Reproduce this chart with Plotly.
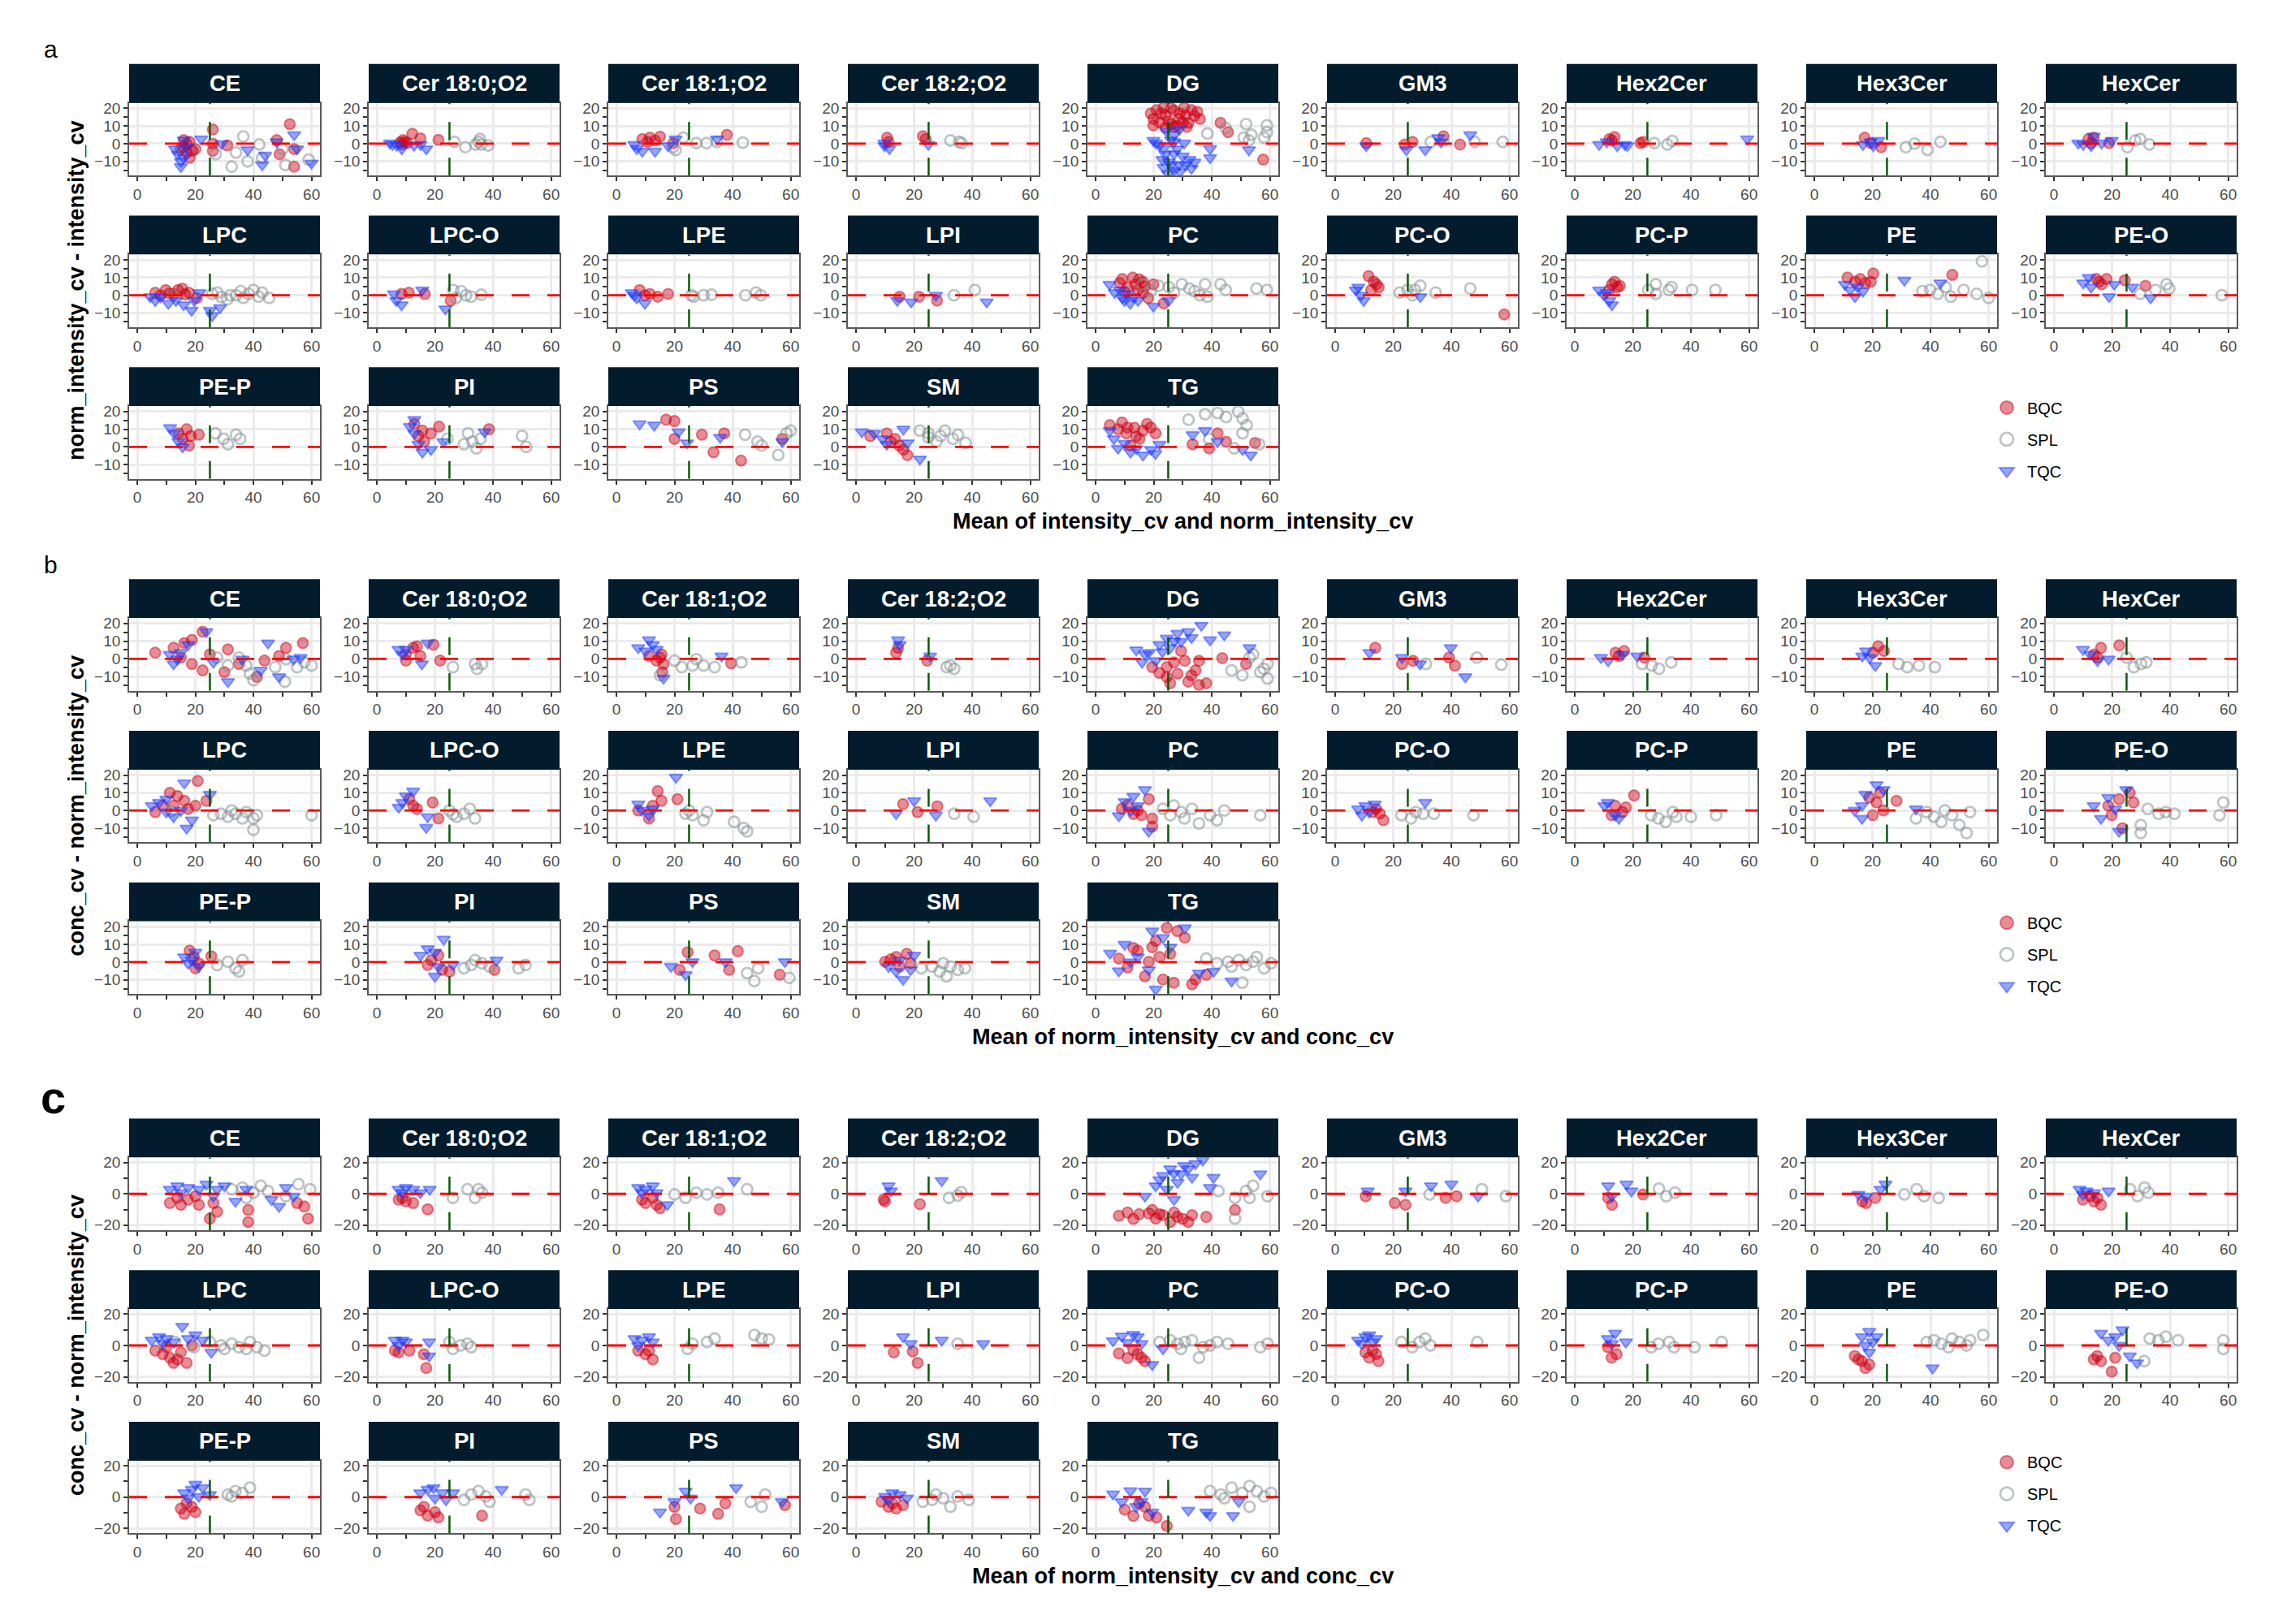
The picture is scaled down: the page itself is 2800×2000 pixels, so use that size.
import plotly.graph_objects as go

W, H = 2800, 2000

CLASSES = ["CE", "Cer 18:0;O2", "Cer 18:1;O2", "Cer 18:2;O2", "DG", "GM3", "Hex2Cer",
           "Hex3Cer", "HexCer", "LPC", "LPC-O", "LPE", "LPI", "PC", "PC-O", "PC-P",
           "PE", "PE-O", "PE-P", "PI", "PS", "SM", "TG"]
GROUPS = ["BQC", "SPL", "TQC"]
PANEL_TAGS = ["a", "b", "c"]
Y_TITLES = ["norm_intensity_cv - intensity_cv", "conc_cv - norm_intensity_cv",
            "conc_cv - norm_intensity_cv"]
X_TITLES = ["Mean of intensity_cv and norm_intensity_cv",
            "Mean of norm_intensity_cv and conc_cv",
            "Mean of norm_intensity_cv and conc_cv"]
X_TICKS = [0, 20, 40, 60]
Y_TICKS_AB = [-10, 0, 10, 20]
Y_TICKS_C = [-20, 0, 20]
CUTOFF = 25

# ---- panel a : norm_intensity_cv - intensity_cv  (x, y) pairs
A_BQC = {
    "CE": [(15, -3), (16, -2), (16, 2), (17, 0), (17, -5), (18, 1), (18, -8), (19, -4), (20, -3), (26, 8),
           (26, 0), (26, -4), (31, -1), (48, 2), (49, -6), (52.5, 11), (54, -3), (54, -13)],
    "Cer 18:0;O2": [(8, 0.6), (8.6, -0.5), (9, 2), (9.6, 1), (10.5, 0.3), (12.2, 5.6), (15, 3), (21.2, 2.1)],
    "Cer 18:1;O2": [(8.9, 2.6), (10.7, 1), (11.5, 3.4), (13.3, 1.8), (15, 4), (19.5, 0.3), (38, 5)],
    "Cer 18:2;O2": [(10.7, 3.4), (11.2, 1), (23, 4.2), (24, 2.6)],
    "DG": [(19, 17), (19.9, 10.3), (19.9, 14), (21, 19), (22, 12), (22.6, 17), (23.4, 20.3), (24, 16), (24, 9),
           (25.2, 12.6), (26, 20), (26, 11), (27, 18.8), (27, 9.5), (28, 10), (28.8, 14), (29, 17), (30, 12),
           (30.5, 20.3), (31, 16), (31.4, 9.5), (32, 11.8), (33, 19), (34, 15.7), (35, 18), (35.9, 14), (43, 11.8),
           (45.6, 6.5), (57.7, -9)],
    "GM3": [(10.7, 0.3), (24, -0.5), (26.6, 1), (37.3, 4.2), (43, -0.5)],
    "Hex2Cer": [(11.9, 2.6), (12.8, 1.8), (13.7, 3.7), (22.6, 0.3), (23.5, 1)],
    "Hex3Cer": [(17.3, 3.4), (19.4, 0.3), (23, -2)],
    "HexCer": [(11.9, 2.6), (12.8, 0.3), (13.7, 3.4), (19, 0.3)],
    "LPC": [(6.2, 1.5), (8, 0), (9.8, 3), (11, 1), (12.5, 0.8), (14, 3), (15.5, 3.8), (16.5, 0.5), (17.8, 1.5),
            (20.5, -1.5)],
    "LPC-O": [(8.5, 0.8), (11, 1.5), (16.5, 0.8), (25.4, -3)],
    "LPE": [(8, 3), (9.8, 0), (11.5, 0.8), (14.2, -0.8), (17.8, 0.8)],
    "LPI": [(15, -0.8), (21.7, -0.8), (27.9, -3)],
    "PC": [(8.3, 7), (9.2, 9.2), (10, 2), (11, 4.6), (12.8, 10), (13.7, 6.2), (14.6, 3), (15, 9), (16.3, 7.7),
           (16.3, 1.5), (17, 5), (18.1, -1.5), (19.9, 6.2), (23.4, -4.6)],
    "PC-O": [(11.5, 10.8), (12.4, 3), (13.3, 7.7), (14.2, 6.2), (15, 4.6), (58.2, -10.8)],
    "PC-P": [(11.9, 3), (12.8, 6.2), (13.7, 7.7), (14.6, 4.6), (15.5, 5.4)],
    "PE": [(11.4, 10), (14, 7.7), (15.8, 9.2), (17.6, 6.9), (19.4, 7.7), (20.3, 12.3), (47.5, 11.5)],
    "PE-O": [(14.6, 9.2), (15.5, 7.7), (16.4, 6.2), (18.1, 9.2), (24.4, 8.5), (31.5, 5.4)],
    "PE-P": [(14.2, 7.7), (15.6, 4.6), (17, 10), (17.8, 0.8), (18.4, 6.2), (21.2, 6.9)],
    "PI": [(12.9, 13), (14.3, 6.2), (15.7, 9.2), (16.3, 3), (18.6, 7.7), (21.4, 11.5), (38.6, 10)],
    "PS": [(17.1, 15.4), (20, 14.6), (20, 4.6), (29.4, 6.9), (33.4, -3), (37.1, 7.7), (42.9, -7.7), (57.1, 4.6)],
    "SM": [(4.9, 6.2), (10.6, 7.7), (12, 3), (13.4, 4.6), (14.9, 0.8), (16.3, -1.5), (17.7, -4.6)],
    "TG": [(4.9, 12.3), (7.7, 10), (9.1, 13.8), (10.6, 7.7), (11, 11), (12, 0.8), (13.4, 10.8), (14, 6), (15.1, 4.6),
           (16.3, 9.2), (17.7, 13), (19, 11), (20.6, 7.7), (33.4, 1.5), (39.1, -0.8), (42, 7.7), (44.9, 3), (54.9, 2.3)],
}
A_SPL = {
    "CE": [(27, -6), (32.5, -13), (34, -5), (36.5, 4), (38, -10), (42, -0.5), (43, -8), (50, -3), (51, -12), (59, -9)],
    "Cer 18:0;O2": [(26.7, 1), (30.5, -2), (34, -0.5), (35, 1), (35.5, 2.6), (36, -0.5), (38.3, -1)],
    "Cer 18:1;O2": [(19.5, -2), (20.4, -3.5), (23, 3.4), (27.5, 0.3), (31, 0.3), (34.6, 1), (43.5, 0.6)],
    "Cer 18:2;O2": [(32.5, 1.8), (35.5, 1), (36.4, 0.3)],
    "DG": [(38.5, 5.7), (44.8, 8.8), (51, 3.4), (51.8, 11), (52.8, 1.8), (53.6, 5), (58, 3.4), (59, 10.3), (59, 6.5)],
    "GM3": [(32.9, 1), (37.3, 1.8), (48, 1), (57.7, 1)],
    "Hex2Cer": [(27.4, 0.3), (31.9, -0.5), (33.6, 1.5)],
    "Hex3Cer": [(31.5, -2), (34.5, 0), (39, -3.5), (43.4, 1)],
    "HexCer": [(25.3, -2), (28, 1.8), (29.7, 2.6), (32.9, -0.5)],
    "LPC": [(12.5, 0), (25.8, 0.8), (27.6, 1.5), (29, -1), (31, -2.3), (32, 0), (34, 0), (35.6, 2.3), (36.5, -1.5),
            (38.3, 0.8), (40, 3), (41.8, -0.8), (43, 1.5), (45.4, -1.5)],
    "LPC-O": [(26.3, 3), (27.2, -1.5), (29, 2.3), (30.7, 0), (32.5, -0.8), (36, 0.3)],
    "LPE": [(25.8, 0), (26.6, -0.8), (30, 0), (32.8, 0.3), (44.4, 0), (48, 1.5), (49.7, 0)],
    "LPI": [(33.7, 0), (40.9, 3)],
    "PC": [(16.3, 6.2), (19, 2.3), (21.7, 5.4), (25.2, 4.6), (27, 1.5), (29.7, 6.2), (32.3, 3.8), (34, 2.3),
           (35.9, 0), (37.7, 6.2), (38.5, -0.8), (43, 6.2), (44.8, 3), (55.4, 3.8), (59, 3)],
    "PC-O": [(22.2, 1.5), (24.9, 3), (26.6, 0), (27.5, 3), (29.3, 5.4), (34.6, 1.5), (46.5, 3.8)],
    "PC-P": [(25.3, 3), (27.9, 6.2), (27.9, 0.8), (32.4, 3), (33.3, 4.6), (40.4, 3), (48.4, 3)],
    "PE": [(37.2, 2.3), (39.9, 3), (42.5, 0.8), (45.2, 4.6), (47, -0.8), (51.4, 3), (55.9, 0.8), (57.7, 19.2), (60, -1.5)],
    "PE-O": [(29.7, 0.8), (35, 3), (38.8, 6.2), (39.7, 3.8), (57.8, 0)],
    "PE-P": [(26.9, 7.7), (29.7, 4.6), (31.2, 1.5), (34, 6.9), (35.4, 4.6)],
    "PI": [(24.3, 4.6), (30, 1.5), (31.4, 7.7), (32.9, 3), (34.3, -0.8), (35.7, 4.6), (50, 6.2), (51.4, 0)],
    "PS": [(44.3, 6.9), (48.6, 3), (50, 0.8), (55.7, -4.6), (58.6, 7.7), (60, 9.2)],
    "SM": [(22, 9.2), (24.9, 7.7), (24.9, 5.4), (27.7, 3), (29.1, 6.2), (30.6, 9.2), (33.4, 4.6), (35.1, 6.9), (37.7, 2.3)],
    "TG": [(32, 15.4), (37.7, 18.5), (39.1, 4.6), (42, 19.2), (44.9, 16.9), (47.7, -0.8), (49.1, 20), (50.6, 16.2),
           (50.6, 7.7), (52, 12.3), (56.3, 1.5)],
}
A_TQC = {
    "CE": [(13, -3), (14, -6), (15, -10), (15, -13), (16, 2), (16, -8), (17, -2), (22, 2.6), (29, 0), (38, -3.5),
           (43, -12), (44, -6.6), (48, 1), (54, 5), (55, -3), (60, -11)],
    "Cer 18:0;O2": [(4.5, 0.3), (5.4, -0.5), (6.8, -1), (8.6, -3), (12.8, -1), (15, -0.5), (17, -3)],
    "Cer 18:1;O2": [(6.2, -0.5), (7, -2.8), (8.9, -4.3), (13.3, -4.3), (17.8, -1.2), (20.4, 2.6), (34.6, 2.6)],
    "Cer 18:2;O2": [(9.8, 0.3), (9.8, -1.2), (11.5, -2.8), (24.9, -0.5)],
    "DG": [(19.9, 1.8), (20.8, 0.3), (22, -1), (23, -9), (23.4, -2.8), (23.4, -13.5), (24, -6), (24.3, 7.2),
           (25, -17), (25.2, -10.5), (26, 2), (26, -12), (27, 5), (27, 1), (27, -5.8), (27, -15), (28, -3),
           (28.8, 8), (28.8, -12), (29, -16), (30, -7), (30.5, 0.3), (31, -12), (32.3, -9), (33, -14), (34, -10.5),
           (39.4, -2.8), (39.4, -8), (52.8, -3.5)],
    "GM3": [(10.7, -1.2), (24.5, -3.5), (31, -3.5), (35.5, 3.4), (36.4, 1), (46.5, 5)],
    "Hex2Cer": [(8.4, -0.5), (11, 1), (14.6, -1.2), (17.2, -0.5), (18.1, -1.2), (59.4, 2.6)],
    "Hex3Cer": [(16.7, -0.5), (19.4, 1), (20.3, -1.2), (22, 1.8)],
    "HexCer": [(8.4, 0.3), (10.1, -0.5), (12.8, -1.2), (13.7, 4.2), (16.4, 0.3), (19.9, 1.8)],
    "LPC": [(4.4, -0.8), (6.2, -3), (8, -1), (10.7, -4.6), (13.3, -3), (16, -5.4), (18.7, -8.5), (19.6, -3),
            (21.4, 1.5), (25, -8.5), (25.8, -11.5), (28.5, -7)],
    "LPC-O": [(5.9, 0.8), (6.7, -3), (8.5, -5.4), (15.6, 3), (23.6, -7.7)],
    "LPE": [(5.3, 1.5), (6.2, 0), (7, -1.5), (9.8, -4.6)],
    "LPI": [(14.2, -3), (19, -3.8), (27.5, 0), (45, -3.8)],
    "PC": [(4.8, 6.2), (6.6, 1.5), (8.3, 3), (9.2, -1.5), (10, -3), (11, 0.8), (11.9, -4.6), (13, -1), (14.6, -3),
           (19.9, -6.2), (25.2, -3)],
    "PC-O": [(7.1, 3), (8, 4.6), (8.9, 0), (9.8, -3), (29.3, -0.8)],
    "PC-P": [(8.4, 3), (10.1, 0), (11, 1.5), (11.9, -3), (12.8, -5.4)],
    "PE": [(10.5, 6.2), (12.3, 3), (14, -0.8), (14.9, 4.6), (16.7, 2.3), (31, 8.5), (43.4, 6.9)],
    "PE-O": [(10.1, 6.9), (12, 10), (12.8, 4.6), (19, -0.8), (20.8, 6.2), (27, 4.6), (33.3, -1.5)],
    "PE-P": [(11.3, 10.8), (12.7, 7.7), (14.2, 3), (15.6, 0)],
    "PI": [(11.4, 11.5), (12.9, 15.4), (12.9, 7.7), (14.3, 1.5), (15.7, -3), (18.6, -1.5), (22.9, 3), (37.1, 8.5)],
    "PS": [(8, 13), (13, 12.3), (21.4, 8.5), (24.3, 2.3), (35.7, 5.4), (57.1, 3)],
    "SM": [(2, 8.5), (6.3, 7.7), (9.1, 4.6), (10.6, 1.5), (16.3, 10), (17.7, 2.3), (22, -6.9)],
    "TG": [(4.9, 9.2), (6.3, 4.6), (7.7, -0.8), (10, 2), (12, -3), (14, -1), (16.3, -4.6), (19.1, -1.5),
           (20.6, -3.8), (22, 1.5), (33.4, 6.9), (37.7, 9.2), (42, 3), (50.6, -1.5), (53.4, -4.6)],
}

# ---- panel b : conc_cv - norm_intensity_cv
B_BQC = {
    "CE": [(6.2, 3.5), (12.5, 6.2), (15, 0.7), (16.2, 8.9), (18.8, 10.7), (18.8, -2.9), (22.5, 15.3), (22.5, -6.5),
           (25, 2.5), (30, -7.5), (31.2, 5.3), (35, -2.9), (41.2, -10.2), (43.8, -1), (48.8, 1.6), (51.2, 6.2), (57, 8.9)],
    "Cer 18:0;O2": [(10, 2.5), (10, -1), (12.5, 6.2), (13.8, 7.1), (15, 1.6), (19.5, 8), (21.8, -1)],
    "Cer 18:1;O2": [(11.2, 1.6), (13.8, -1), (15, 0.7), (15.5, 2.5), (15.8, -7.5), (16.2, -2.9), (39.5, -2.5)],
    "Cer 18:2;O2": [(13.8, 3.5), (14.5, 6.2), (24.5, -1)],
    "DG": [(19.5, -4.7), (22, -8), (24.5, -4.7), (24.5, -10.2), (25.7, -13.8), (27, -2), (28.2, -8.4), (29.4, 4.4),
           (30.7, -1.1), (31.9, -12.9), (33, -9.3), (34.4, -6.5), (35.6, -14.7), (35.6, -1.1), (38.1, -13.8),
           (43.6, 0.4), (51.8, -2.9)],
    "GM3": [(13.8, 6.2), (23, -2.9), (26.8, -1.1), (39.2, 0.7), (41.2, -3.8)],
    "Hex2Cer": [(14, 3.5), (15.2, 1.6), (17, 4.4), (24, 0.7)],
    "Hex3Cer": [(20.2, 3.5), (22, 7.1), (24, 4.4)],
    "HexCer": [(13.8, 2.5), (15, 0.7), (16.2, 6.2), (22.5, 7.6)],
    "LPC": [(6.2, -0.9), (8.8, 2.7), (11.2, 10), (12.5, 2.7), (13.8, 8.2), (16.2, 5.5), (17.5, 0.9), (20, 2.7),
            (20.8, 16.7), (23.8, 5.5)],
    "LPC-O": [(11.2, 6.4), (12.5, 2.7), (13.8, 0.9), (19.2, 4.5), (21.2, -4.5)],
    "LPE": [(7.5, 0), (11.2, -4.5), (12.5, 2.7), (14.2, 10.9), (15.5, 5.5), (21, 6.4)],
    "LPI": [(16.2, 3.6), (21.2, -0.9), (28, 2.4)],
    "PC": [(9, 1), (11, 3), (13, -2), (14.5, 0), (15.8, -2.7), (18.3, 6.4), (19.5, -4.5), (19.5, -9.1)],
    "PC-O": [(12.9, -0.9), (14.1, 0.9), (15.4, -1.8), (16.6, -5.5)],
    "PC-P": [(12.7, -2.7), (13.9, 2.7), (16.4, -0.9), (17.6, 1.8), (20.4, 8.5)],
    "PE": [(18.9, 7.3), (20.1, -2.7), (21.4, 4.5), (22.6, 10), (23.8, 0), (28.3, 5.5)],
    "PE-O": [(18.7, 2.7), (19.9, -2.7), (22.4, 6.4), (23.6, -10), (26.1, 10), (27.4, 4.5)],
    "PE-P": [(18, 6.5), (19.5, 2.9), (20, -3.5), (21.2, -0.7), (25.5, 3.3)],
    "PI": [(17.5, -1.6), (18.8, 1.1), (21.2, 3.8), (22.5, -4.4), (25, -5.3), (40.5, -4.4)],
    "PS": [(21.8, -4.4), (24.5, 5.6), (33.8, 3.8), (38.8, -4.4), (41.8, 6.2), (56.2, -7.1)],
    "SM": [(10, 0.2), (12, 1.5), (13.8, 2.9), (15, -2.5), (17.5, 4.7), (18.8, -0.7)],
    "TG": [(8, 2), (11, -3), (13, 8), (14.5, 6.5), (17, -8), (18.3, 0.2), (19.5, 8.4), (20.7, 12), (22, 2.9),
           (23.2, -9.8), (24.5, 19.3), (25.7, 4.7), (26.9, -11.6), (28.2, 17.5), (30.7, 13.8), (33.2, -12.5),
           (34.4, -9.8), (38.1, -7.1)],
}
B_SPL = {
    "CE": [(27.5, 0.7), (31.2, -3.8), (35, 0.7), (37.5, -3.8), (38.8, -8.4), (40, -12), (47.5, -4.7), (50.8, -12.9),
           (51.2, -0.2), (55, -4.7), (57.5, -2), (60, -3.8)],
    "Cer 18:0;O2": [(26.2, -4.7), (33.8, -2.9), (34.5, -5.6), (36.2, -2.9)],
    "Cer 18:1;O2": [(15, -9.3), (20, -1), (22.5, -4.7), (26.2, -3.8), (27.5, -0.2), (30, -3.8), (33.8, -4.7), (43, -2)],
    "Cer 18:2;O2": [(31.2, -4.7), (32.5, -3.8), (33.8, -5.6)],
    "DG": [(46.8, -6.5), (50.5, -9.3), (53, 0.7), (54.2, 2.5), (56.7, -7.5), (57.9, -5.6), (59.2, -11.1), (59.2, -2.9)],
    "GM3": [(31.2, -2.9), (48.8, 0.7), (57.2, -3.3)],
    "Hex2Cer": [(23.2, -2.9), (26.5, -3.8), (29, -5.6), (33.2, -2)],
    "Hex3Cer": [(29, -2.9), (32, -4.7), (36, -3.8), (41.5, -4.7)],
    "HexCer": [(25, 0.7), (27.5, -4.7), (30, -2.9), (31.8, -2)],
    "LPC": [(11.8, -0.5), (26.2, -2.7), (28.8, -1.8), (31.2, -3.6), (32.5, 0), (33.8, -1.8), (36.2, -4.5),
            (37.5, -0.9), (40, -4.5), (40, -10.9), (41.2, -2.7), (60, -2.7)],
    "LPC-O": [(25, 0), (26.2, -2.2), (27.5, -3.6), (30, -1.8), (32, 0.9), (33.8, -4.5)],
    "LPE": [(23.8, -1.8), (25, 0), (26.2, -2.7), (30, -5.5), (31.2, -0.9), (40.5, -6.4), (43.8, -10), (45, -11.8)],
    "LPI": [(33.8, -1.8), (40.5, -3.6)],
    "PC": [(23.2, 0.9), (25.7, -2.7), (26.9, 2.7), (29.4, -0.9), (30.6, -4.5), (33.2, 0.9), (35.6, -7.3),
           (39.4, -2.7), (41.8, -5.5), (44.3, 0), (56.7, -2.7)],
    "PC-O": [(22.8, -2.7), (26.1, -4.5), (27.8, -0.9), (30.3, -1.8), (34, -1.8), (47.6, -2.7)],
    "PC-P": [(26.3, -2.7), (28.8, -4.5), (31.3, -6.4), (33.8, -0.9), (35, -3.6), (40, -3.6), (48.7, -2.7)],
    "PE": [(35, -4.5), (38.7, -0.9), (41.2, -3.6), (43.7, -6.4), (44.9, 0), (47.4, -2.7), (49.9, -8.2),
           (52.4, -12.7), (53.6, -0.9)],
    "PE-O": [(29.9, -8.2), (29.9, -12.7), (32.3, 0.9), (36, -1.8), (38.5, -0.9), (41.5, -1.8), (57, -2.7), (58.3, 4.5)],
    "PE-P": [(27.5, -1.6), (31.2, 0.2), (33.8, -3.5), (35, -5.3), (36.2, 1.1)],
    "PI": [(30, -3.5), (32.5, -1.6), (33.8, 1.1), (36.2, -0.7), (38.8, -2.5), (48.8, -3.5), (51.2, -1.6)],
    "PS": [(45, -6.2), (47.5, -10.7), (48.8, -3.5), (59.5, -8.9)],
    "SM": [(22.5, -3.5), (26.2, -2.5), (28.8, -5.3), (30, -0.7), (31.2, -8), (32.5, -2.5), (35, -4.4), (37.5, -3.5)],
    "TG": [(38.1, 2), (41.8, -0.7), (45.6, 0.2), (46.8, -2.5), (49.3, 1.1), (50.5, -11.6), (51.8, -1.6),
           (54.2, 0.2), (55.5, 2.9), (58, -3.5), (60.4, -0.7)],
}
B_TQC = {
    "CE": [(11.2, 2.5), (12.5, -2.9), (13.8, -0.2), (15, 3.5), (17.5, 8), (23.8, 15.3), (26.2, -2), (31.2, -12.9),
           (36.2, -0.2), (42.5, -6.5), (45, 8.9), (48.8, -10.2), (53.8, -0.2), (56.2, 0.7)],
    "Cer 18:0;O2": [(7.5, 5.3), (8.8, 2.5), (10, 5.3), (15.5, -2.9), (17.5, 8.9)],
    "Cer 18:1;O2": [(7.5, 6.2), (10, 4.4), (11.2, 10.7), (12.5, 8), (13.8, 5.3), (16.2, -11), (36.2, 1.6)],
    "Cer 18:2;O2": [(14.5, 10.7), (15, 8), (25.5, 1.6)],
    "DG": [(14, 5), (16, -2), (17, 2.5), (18.3, 3.5), (20.7, -1.1), (22, 8), (23, 4), (24.5, 11.6), (25.7, 6.2),
           (27, 10), (28.2, 14.4), (29.4, 9.8), (31.9, 15.3), (33, 12), (36.4, 18.9), (39.4, 10.7), (44.3, 13.5), (53, 6.2)],
    "GM3": [(11.8, 3.5), (23, 0.7), (29.2, -2.9), (39.8, 6.2), (44.8, -10.2)],
    "Hex2Cer": [(9, 0.7), (11.5, -1.1), (16.5, 2.5), (21.5, 1.6)],
    "Hex3Cer": [(16.5, 1.6), (17.8, 4.4), (19, 0.7), (21, -3.8)],
    "HexCer": [(10, 5.3), (12.5, 2.5), (15, -1.1), (18.8, -0.2)],
    "LPC": [(5, 2.7), (7.5, 4.5), (10, -0.9), (10, 6.4), (12.5, -3.6), (15, 0), (16.2, 15.5), (17, -10),
            (18.8, -5.5), (25, 9.1)],
    "LPC-O": [(7.5, 1.8), (8.8, 4.5), (10, 8.2), (12.5, 10.9), (17, -9.6), (17.5, -3.6)],
    "LPE": [(7.5, 3.6), (8.8, 0), (11.2, -2.7), (12.5, 0.9), (20.5, 18.7)],
    "LPI": [(13.8, -1.8), (20, 5.5), (27.5, -2.7), (46.2, 5.5)],
    "PC": [(8, -3), (10, 5), (12, 0), (13, 8), (14.5, 2.7), (17, 11.8), (18.3, -11.8)],
    "PC-O": [(7.9, 0.9), (9.2, -2.7), (10.4, 2.7), (11.7, -0.9), (13.6, 3.6), (31, 4.5)],
    "PC-P": [(10.2, 2.7), (11.4, 4.5), (13.9, -2.7), (15.2, -4.5)],
    "PE": [(13.9, 0), (16.4, -4.5), (16.4, 2.7), (17.6, 9.1), (21.4, 14.5), (23.8, 11.8), (35, 0.9)],
    "PE-O": [(13.7, 2.7), (16.2, -4.5), (18.7, 7.3), (21.1, 0.9), (22.4, -11.8), (24.9, 11.8)],
    "PE-P": [(16.2, 2.9), (17.5, -0.7), (18.8, 1.1), (20, 5.6), (21.2, -2.5)],
    "PI": [(15, 3.8), (17.5, 7.5), (20, 5.6), (20, -8), (21.2, -2.5), (23, 12.9), (26.2, -1.6), (41.2, 1.1)],
    "PS": [(18.8, -2.5), (23.8, -7.1), (26.2, 0.2), (37.5, 0.2), (58, 0.2)],
    "SM": [(11.2, -2.5), (13.8, -5.3), (15, 1.1), (16.2, -9.8), (18.8, -4.4), (20, 3.8)],
    "TG": [(5, 5), (8, -5), (10, 10), (12, 0), (14.5, 2.9), (18.3, -4.4), (19.5, 17.5), (20.7, -15.3),
           (23.2, 13.8), (25.7, 8.4), (30.7, 19.3), (35.6, -6.2), (40.6, -5.3), (46.8, -10.7)],
}

# ---- panel c : conc_cv - norm_intensity_cv
C_BQC = {
    "CE": [(11.2, -5.9), (13.8, -2.6), (15, -7), (17.5, -3.7), (20, -1.5), (21.2, -7), (25, -15.8), (26.2, -5.9),
           (27.5, -11.4), (38.2, -10.3), (38.2, -18), (55, -5.9), (57.5, -8.1), (58.8, -15.8)],
    "Cer 18:0;O2": [(7.5, -3.7), (8.8, -2.6), (10, -4.8), (12.5, -5.9), (17.5, -9.9)],
    "Cer 18:1;O2": [(8.8, -3.7), (10, -5.9), (12.5, -2.6), (13.8, -7), (15, -9.2), (35.5, -9.9)],
    "Cer 18:2;O2": [(9.5, -3.7), (10, -4.8), (22, -6.6)],
    "DG": [(8, -14), (11, -12), (13, -16), (15, -13), (18.3, -12.5), (19.5, -10.3), (20.7, -15.8), (22, -13),
           (23.2, -13.6), (25.7, -18), (27, -12), (28.2, -14.7), (30, -16), (31.9, -18), (33.2, -13.6),
           (38.1, -14.7), (48, -10.3)],
    "GM3": [(10.5, -1.5), (20.5, -5.9), (24.2, -7), (38, -2.6), (41.8, -1.5)],
    "Hex2Cer": [(11.5, -2.6), (12.8, -7), (23.5, -0.4)],
    "Hex3Cer": [(16.5, -4.8), (17.8, -5.9), (21, -2.6)],
    "HexCer": [(10, -3.7), (12.5, -1.5), (13.8, -4.8), (15, -2.6), (16.2, -7)],
    "LPC": [(6.2, -3.3), (8.8, -5.6), (10, -1.1), (11.2, -7.8), (12.5, -11.1), (13.8, -8.9), (15, -4.4),
            (17, -11.1), (18.8, 0)],
    "LPC-O": [(6.2, -3.3), (7.5, -4.4), (11.2, -3.3), (16.2, -5.6), (17, -14.4)],
    "LPE": [(7.5, -3.3), (10, -5.6), (11.2, -3.3), (12.5, -8.9)],
    "LPI": [(13, -4.4), (19.5, -3.8), (21.2, -11.1)],
    "PC": [(8, -5), (11, -8), (13, -3), (14.5, -5.6), (15.8, -7.8), (17, -10)],
    "PC-O": [(10.4, -4.4), (11.7, -7.8), (12.9, -3.3), (14.1, -5.6), (14.9, -10)],
    "PC-P": [(11.4, -1.1), (12.7, -7.8), (14.4, -5.6)],
    "PE": [(13.9, -6.7), (15.2, -8.9), (16.4, -10), (17.6, -14.4), (18.9, -12.2)],
    "PE-O": [(13.7, -8.9), (14.9, -6.7), (16.2, -10), (19.9, -16.7), (21.1, -7.8)],
    "PE-P": [(15, -7.3), (16.2, -10.7), (17, -4), (18.8, -6.2), (20, -9.6)],
    "PI": [(15, -8.4), (16.2, -6.2), (17.5, -11.8), (20, -9.6), (21.2, -12.9), (36.2, -11.8)],
    "PS": [(20, -6.2), (20.5, -14), (28.8, -7.3), (35, -10.7), (37.5, -4), (58, -5.1)],
    "SM": [(8.8, -2.9), (11.2, -6.2), (12.5, -4), (13.8, -7.3), (16.2, -5.1)],
    "TG": [(10, -8), (13, -12), (15, -4), (17, -6.2), (18.3, -11.8), (21, -13), (24.5, -18.4)],
}
C_SPL = {
    "CE": [(32.5, 2.9), (36.2, 4), (37.5, -2.6), (40, 0.7), (42.5, 5.1), (45, 1.8), (51.2, -1.5), (55.5, 6.2), (59.5, 2.9)],
    "Cer 18:0;O2": [(26.2, -2.6), (31.2, 2.9), (33.8, -2.6), (35, 2.9), (36.2, 0.7)],
    "Cer 18:1;O2": [(20, -0.4), (23.8, -2.6), (27.5, 0.7), (31.2, -0.4), (35, 0.7), (45, 2.9)],
    "Cer 18:2;O2": [(32, -2.6), (35, -1.1), (36.2, 1.1)],
    "DG": [(42.3, 1.8), (48, -15.8), (48, -2.6), (51.8, 1.8), (53, -2.6), (54.2, 5.1), (59.2, -1.5)],
    "GM3": [(32.5, -0.4), (50.5, 2.9), (58.8, -1.5)],
    "Hex2Cer": [(29, 3.3), (31.5, -1.5), (34.5, 0.7)],
    "Hex3Cer": [(31, -0.4), (35.2, 2.9), (37.8, -1.5), (42.8, -2.6)],
    "HexCer": [(26.2, 2.9), (28.8, -1.5), (31.2, 4), (32.5, 0.7)],
    "LPC": [(13, 2.2), (19.5, -1.1), (25, 2.2), (28.8, 0), (30, -2.2), (32.5, 1.1), (35, -1.1), (37.5, -2.2),
            (38.8, 2.2), (41.2, -1.1), (43.8, -3.3)],
    "LPC-O": [(25, 2.2), (26.2, -2.2), (28.8, 0), (31.2, 1.1), (32.5, -1.1)],
    "LPE": [(24.5, -2.2), (26.2, 1.1), (31.2, 2.2), (33.8, 4.4), (47.5, 6.7), (50, 4.4), (52.5, 3.8)],
    "LPI": [(35, 1.1)],
    "PC": [(22, 2.2), (25.7, 3.3), (28.2, 1.1), (29.4, -2.2), (30.7, 2.2), (33.2, 3.3), (35.6, -7.8), (37, -1.1),
           (39.4, 0), (41.8, 2.2), (45.6, 1.1), (56.7, -1.1), (59.2, 1.1)],
    "PC-O": [(22.8, 2.2), (26.5, -1.1), (29, 2.2), (31, 4.4), (32.8, 0), (48.9, 2.2)],
    "PC-P": [(26.3, -1.1), (28.8, 1.1), (32.5, 2.2), (34.2, -1.1), (41.2, -1.1), (50.6, 2.2)],
    "PE": [(38.7, 2.2), (41.2, 3.3), (43.7, 1.1), (46.2, -1.1), (47.4, 4.4), (49.9, 2.2), (52.4, 0), (53.6, 3.3), (58.1, 6.7)],
    "PE-O": [(31.1, -10), (33, 4.4), (36, 3.3), (38.5, 5.6), (42.7, 3.3), (58.3, 3.3), (58.3, -2.2)],
    "PE-P": [(31.2, 1.6), (32.5, 0.4), (33.8, 3.8), (36.2, 2.7), (38.8, 6)],
    "PI": [(30, -1.8), (32.5, 1.6), (35, 3.8), (37.5, 0.4), (38.8, -2.9), (51.2, 1.6), (52.5, -1.8)],
    "PS": [(46.2, -2.9), (50, -6.2), (51.2, 1.6)],
    "SM": [(23, -2.9), (26.2, -1.8), (27.5, 1.6), (30, -0.7), (32.5, -6.2), (35, 0.4), (38.8, -1.8)],
    "TG": [(39.4, 3.8), (43.1, 1.6), (44.3, -0.7), (46.8, 6), (50.5, 2.7), (53, 7.1), (53, -6.2), (55.5, 3.8),
           (58, 0.4), (60.4, 2.7)],
}
C_TQC = {
    "CE": [(11.2, 2.9), (13.8, 5.1), (15, 0.7), (17.5, 4), (21.2, 2.9), (23.8, 6.2), (26.2, -1.5), (27.5, 2.9),
           (30, 5.1), (33.8, -4.8), (37.5, 2.9), (46.2, -3.7), (48.8, -8.1), (51.2, 4), (53.8, -1.5)],
    "Cer 18:0;O2": [(7.5, 2.9), (8.8, 0.7), (10, 4), (12.5, 2.9), (15, 0.7), (18.2, 2.9)],
    "Cer 18:1;O2": [(7.5, 4), (8.8, 0.7), (10, 2.9), (12.5, 5.1), (13.8, 0.7), (17.5, -7), (40.5, 8.4)],
    "Cer 18:2;O2": [(11.2, 5.1), (12, 1.8), (29.5, 8.4)],
    "DG": [(17, -1.5), (20.7, 5.1), (22, 9), (23.2, 11.6), (24.5, 2.9), (25.7, 16), (27, -3.7), (27, 13),
           (28.2, 7.3), (29.4, 12.7), (30.5, 18), (31.9, 16), (33.2, 10.5), (34.4, 19.3), (36.9, 21.5), (39.4, 4),
           (40.6, 10.5), (56.7, 12.7)],
    "GM3": [(11.2, 1.8), (24.2, 1.8), (33, 5.1), (40, 6.2), (49.2, -1.5)],
    "Hex2Cer": [(11.5, 5.1), (12.8, -1.5), (17.8, 6.2), (19.5, 1.8)],
    "Hex3Cer": [(15.2, -0.4), (17.8, -1.5), (22.8, 2.9), (24.5, 6.2)],
    "HexCer": [(8.8, 2.9), (10, -0.4), (11.2, 1.8), (13.8, 0.7), (18.8, 1.8)],
    "LPC": [(5, 3.3), (7.5, 5.6), (8.8, 1.1), (10, 4.4), (12.5, 2.2), (15.5, 12.2), (17.5, 4.4), (20, 6.7),
            (22.5, 3.3), (25.5, -4.4)],
    "LPC-O": [(6.2, 3.3), (7.5, 0), (8.8, 3.3), (10, 2.2), (18, 2.2), (18, -6.7)],
    "LPE": [(6.2, 4.4), (7.5, 0), (8.8, 3.3), (11.2, 5.6), (12.5, 2.2)],
    "LPI": [(16.2, 5.6), (18.8, 1.1), (29.5, 3.3), (43.8, 1.1)],
    "PC": [(6, 3), (9, 6), (11, 2), (13, 7), (14.5, 5.6), (15.8, 1.1), (19.5, -12.2), (23.2, -2.2)],
    "PC-O": [(7.9, 3.3), (9.2, 1.1), (10.4, 5.6), (11.7, 6.7), (12.9, 2.2), (14.1, 4.4)],
    "PC-P": [(11.4, 4.4), (12.7, 1.1), (13.9, 7.8), (17.6, 2.2)],
    "PE": [(16.4, 5.6), (17.6, 0), (18.9, 8.9), (18.9, -4.4), (20.1, 2.2), (21.4, 5.6), (40.7, -14.4)],
    "PE-O": [(16.2, 7.8), (18.7, 3.3), (21.1, 5.6), (22.4, 0), (23.6, 10), (26.1, -6.7), (28.6, -11.1)],
    "PE-P": [(16.2, 2.7), (17.5, -0.7), (18.8, 4.9), (20, 8.2), (21.2, 0.4), (22.5, 6), (25, 1.6)],
    "PI": [(15, 2.7), (17.5, 4.9), (19.5, 6), (20, -0.7), (22.5, 2.7), (23.8, -1.8), (26.2, 2.7), (43, 4.9)],
    "PS": [(15, -9.6), (20, -2.9), (23.8, 3.8), (25.5, -0.7), (41.2, 6), (57, -2.9)],
    "SM": [(10, 0.4), (11.2, -1.8), (12.5, 2.7), (15, 1.6), (17.5, -0.7)],
    "TG": [(6, 2), (9, -3), (12, 4), (14, -6), (15.8, -2.9), (17, 3.8), (19.5, -9.6), (31.9, -8.4), (38.1, -9.6),
           (39.4, -11.8), (47.3, -11.8), (49.3, -2.9)],
}

PANEL_DATA = [
    {"BQC": A_BQC, "SPL": A_SPL, "TQC": A_TQC},
    {"BQC": B_BQC, "SPL": B_SPL, "TQC": B_TQC},
    {"BQC": C_BQC, "SPL": C_SPL, "TQC": C_TQC},
]

# ---- styling / geometry (pixels of the 2800x2000 page)
FONT = "Liberation Sans, Arial, sans-serif"
STRIP_COL = "#031C2D"
RED = "rgba(205,0,20,0.45)"
GREY = "rgba(127,140,141,0.5)"
BLUE = "rgba(25,55,255,0.45)"
STYLE = {
    "BQC": dict(symbol="circle", size=13, color=RED, line=dict(color=RED, width=2)),
    "SPL": dict(symbol="circle-open", size=13, color=GREY, line=dict(width=2.8)),
    "TQC": dict(symbol="triangle-down", size=14, color=BLUE, line=dict(color=BLUE, width=2)),
}
PANEL_TOP = [75, 712, 1379]
ROW_STEP = 187.5
STRIP_H, PLOT_H = 48, 90
COL_X0, COL_STEP, COL_W = 159, 295, 235
X_RANGE = [-2.8, 62.9]
Y_RANGES = [[-18, 23.1], [-18, 23.1], [-23.2, 23.3]]
PAGE_PAD = 8   # the html body margin

fig = go.Figure()
layout = dict(width=W, height=H, margin=dict(l=0, r=0, t=0, b=0),
              paper_bgcolor="white", plot_bgcolor="white", showlegend=True,
              font=dict(family=FONT, color="#4D4D4D"))
shapes, annos = [], []


def px_x(v):
    return (v - PAGE_PAD) / W


def px_y(v):
    return 1 - (v - PAGE_PAD) / H


for p in range(3):
    ticks_y = Y_TICKS_C if p == 2 else Y_TICKS_AB
    minor_y = 10 if p == 2 else 5
    for k, cls in enumerate(CLASSES):
        n = p * len(CLASSES) + k + 1
        sfx = "" if n == 1 else str(n)
        row, col = divmod(k, 9)
        left = COL_X0 + col * COL_STEP
        right = left + COL_W
        s_top = PANEL_TOP[p] + row * ROW_STEP
        p_top = s_top + STRIP_H
        p_bot = p_top + PLOT_H

        axis_common = dict(showline=True, mirror=True, linecolor="#5A5A5A", linewidth=1.8,
                           showgrid=True, gridcolor="#EBEBEB", gridwidth=2.5, zeroline=False,
                           ticks="outside", ticklen=5, tickwidth=1.8, tickcolor="#333333",
                           tickfont=dict(family=FONT, size=19, color="#4D4D4D"), fixedrange=True)
        layout["xaxis" + sfx] = dict(domain=[px_x(left), px_x(right)], anchor="y" + sfx, range=X_RANGE,
                                     tickmode="array", tickvals=X_TICKS,
                                     minor=dict(dtick=10, tick0=0, ticks="outside", ticklen=5,
                                                tickwidth=1.8, tickcolor="#333333", showgrid=False),
                                     **axis_common)
        layout["yaxis" + sfx] = dict(domain=[px_y(p_bot), px_y(p_top)], anchor="x" + sfx,
                                     range=Y_RANGES[p], tickmode="array", tickvals=ticks_y,
                                     minor=dict(dtick=minor_y, tick0=0, ticks="outside", ticklen=5,
                                                tickwidth=1.8, tickcolor="#333333", showgrid=False),
                                     **axis_common)

        for g in GROUPS:
            pts = PANEL_DATA[p][g].get(cls, [])
            fig.add_trace(go.Scatter(x=[q[0] for q in pts], y=[q[1] for q in pts], mode="markers",
                                     marker=STYLE[g], name=g, showlegend=False, hoverinfo="skip",
                                     xaxis="x" + sfx, yaxis="y" + sfx))

        # strip
        shapes.append(dict(type="rect", xref="paper", yref="paper", x0=px_x(left), x1=px_x(right),
                           y0=px_y(p_top), y1=px_y(s_top), fillcolor=STRIP_COL, line=dict(width=0),
                           layer="above"))
        annos.append(dict(text=cls, xref="paper", yref="paper", x=px_x((left + right) / 2),
                          y=px_y(s_top + STRIP_H / 2), showarrow=False, xanchor="center", yanchor="middle",
                          font=dict(family=FONT, size=27.5, color="white", weight="bold")))
        # reference lines
        shapes.append(dict(type="line", xref="x" + sfx, yref="y" + sfx, x0=X_RANGE[0], x1=X_RANGE[1],
                           y0=0, y1=0, line=dict(color="#FF0000", width=2.8, dash="22px,22px"), layer="above"))
        shapes.append(dict(type="line", xref="x" + sfx, yref="y" + sfx, x0=CUTOFF, x1=CUTOFF,
                           y0=Y_RANGES[p][0], y1=Y_RANGES[p][1],
                           line=dict(color="#0B5A0B", width=2.5, dash="22px,22px"), layer="above"))

    # titles / tags
    base = PANEL_TOP[p]
    annos.append(dict(text=Y_TITLES[p], xref="paper", yref="paper", x=px_x(94), y=px_y(base + 280.5),
                      textangle=-90, showarrow=False, xanchor="center", yanchor="middle",
                      font=dict(family=FONT, size=27, color="black", weight="bold")))
    annos.append(dict(text=X_TITLES[p], xref="paper", yref="paper", x=px_x(1456), y=px_y(base + 566),
                      showarrow=False, xanchor="center", yanchor="middle",
                      font=dict(family=FONT, size=27, color="black", weight="bold")))
    if p == 2:
        annos.append(dict(text=PANEL_TAGS[p], xref="paper", yref="paper", x=px_x(48), y=px_y(base - 26),
                          showarrow=False, xanchor="left", yanchor="middle",
                          font=dict(family=FONT, size=56, color="black", weight="bold")))
    else:
        annos.append(dict(text=PANEL_TAGS[p], xref="paper", yref="paper", x=px_x(52), y=px_y(base - 18),
                          showarrow=False, xanchor="left", yanchor="middle",
                          font=dict(family=FONT, size=30, color="black")))

    # legend for this panel
    lname = "legend" if p == 0 else "legend" + str(p + 1)
    sfx0 = "" if p == 0 else str(p * len(CLASSES) + 1)
    for g in GROUPS:
        st = dict(STYLE[g])
        st["size"] = 22 if g != "TQC" else 24
        fig.add_trace(go.Scatter(x=[None], y=[None], mode="markers", marker=st, name=g,
                                 legend=lname, legendgroup=f"{p}{g}", showlegend=True,
                                 xaxis="x" + sfx0, yaxis="y" + sfx0))
    layout[lname] = dict(x=px_x(2446), y=px_y(base + 464), xanchor="left", yanchor="middle",
                         bgcolor="rgba(0,0,0,0)", traceorder="grouped", tracegroupgap=10,
                         itemwidth=40, font=dict(family=FONT, size=20, color="black"))

layout["shapes"] = shapes
layout["annotations"] = annos
fig.update_layout(**layout)
fig.write_html("out.html")
